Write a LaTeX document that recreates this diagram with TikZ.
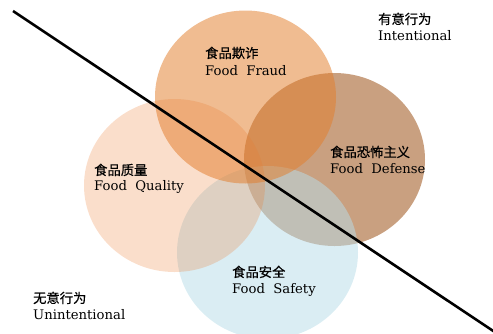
\documentclass[tikz,border=0pt]{standalone}
\usepackage{fontspec}
\setmainfont{DejaVu Serif}
\newfontfamily\cjk[FakeBold=0.6]{Noto Sans CJK SC}
\definecolor{defcol}{RGB}{201,160,128}
\definecolor{safcol}{RGB}{184,220,232}
\definecolor{qualcol}{RGB}{237,125,49}
\definecolor{fraudcol}{RGB}{226,126,45}
\begin{document}
\begin{tikzpicture}[x=1pt,y=-1pt,
  cn/.style={anchor=base west,inner sep=0pt,font=\cjk\fontsize{13.3}{15}\selectfont},
  en/.style={anchor=base west,inner sep=0pt,font=\fontsize{13.2}{15}\selectfont},
  divider/.style={line width=2.6pt,black}]
\useasboundingbox (0,0) rectangle (493,333);
\begin{scope}
\clip (0,0) rectangle (493,333);
% circles
\fill[defcol] (334.5,159.5) ellipse [x radius=90.5, y radius=86.5];
\fill[safcol,fill opacity=0.52] (267.5,252.5) ellipse [x radius=90.5, y radius=86.5];
\fill[qualcol,fill opacity=0.25] (174.5,185.5) ellipse [x radius=90.5, y radius=86.5];
\fill[fraudcol,fill opacity=0.52] (245.5,97) ellipse [x radius=90.5, y radius=86.5];
% divider
\coordinate (ls) at (13,11);
\coordinate (le) at (497,333.5);
\draw[divider] (ls) -- (le);
\end{scope}
% labels
\node[cn] (fraudcn) at (205,58) {食品欺诈};
\node[en] (frauden) at (205,75) {Food\ \ Fraud};
\node[cn] (intcn) at (378,24) {有意行为};
\node[en] (inten) at (378,40) {Intentional};
\node[cn] (defcn) at (330,157) {食品恐怖主义};
\node[en] (defen) at (330,173) {Food\ \ Defense};
\node[cn] (qualcn) at (94,175) {食品质量};
\node[en] (qualen) at (94,190) {Food\ \ Quality};
\node[cn] (safcn) at (232,277) {食品安全};
\node[en] (safen) at (232,293) {Food\ \ Safety};
\node[cn] (unintcn) at (33,303) {无意行为};
\node[en] (uninten) at (33,319) {Unintentional};
\end{tikzpicture}
\end{document}
